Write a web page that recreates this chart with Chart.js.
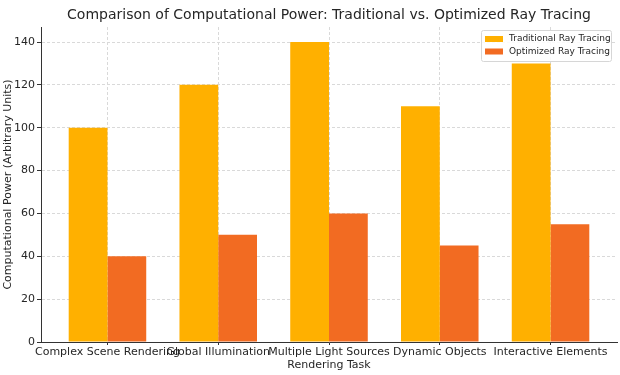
<!DOCTYPE html>
<html>
<head>
<meta charset="utf-8">
<script src="https://cdn.jsdelivr.net/npm/chart.js@4"></script>
<style>
  html, body { margin: 0; padding: 0; background: #fff; }
</style>
</head>
<body>
<canvas id="chart" width="620" height="375"></canvas>
<script>
// 数据
const chartTitle = 'Comparison of Computational Power: Traditional vs. Optimized Ray Tracing';
const categories = ['Complex Scene Rendering', 'Global Illumination', 'Multiple Light Sources', 'Dynamic Objects', 'Interactive Elements'];
const traditional = [100, 120, 140, 110, 130];
const optimized = [40, 50, 60, 45, 55];
const yTicks = [0, 20, 40, 60, 80, 100, 120, 140];

const FONT = 'DejaVu Sans';
const TEXT = '#262626';

// 标题（居中于绘图区）
const titlePlugin = {
    id: 'plotTitle',
    afterDraw(chart) {
        const { ctx, chartArea } = chart;
        ctx.save();
        ctx.font = '14px "' + FONT + '"';
        ctx.fillStyle = TEXT;
        ctx.textAlign = 'center';
        ctx.textBaseline = 'middle';
        ctx.fillText(chartTitle, (chartArea.left + chartArea.right) / 2, 15);
        ctx.restore();
    }
};

// 图例（右上角，绘图区内）
const legendPlugin = {
    id: 'boxLegend',
    afterDatasetsDraw(chart) {
        const { ctx, chartArea } = chart;
        const sets = chart.data.datasets;
        const w = 130, h = 31;
        const x = chartArea.right - w - 6, y = chartArea.top + 3;
        ctx.save();
        ctx.fillStyle = 'rgba(255,255,255,0.85)';
        ctx.strokeStyle = '#d6d6d6';
        ctx.lineWidth = 1;
        ctx.beginPath();
        ctx.roundRect(x + 0.5, y + 0.5, w, h, 2);
        ctx.fill();
        ctx.stroke();
        ctx.font = '9px "' + FONT + '"';
        ctx.textBaseline = 'middle';
        sets.forEach((ds, i) => {
            const cy = y + 9 + i * 12.5;
            ctx.fillStyle = ds.backgroundColor;
            ctx.fillRect(x + 4, cy - 3, 18, 6);
            ctx.fillStyle = TEXT;
            ctx.fillText(ds.label, x + 28, cy);
        });
        ctx.restore();
    }
};

new Chart(document.getElementById('chart'), {
    type: 'bar',
    data: {
        datasets: [{
            label: 'Traditional Ray Tracing',
            data: traditional.map((v, i) => ({ x: i, y: v })),
            backgroundColor: '#FFB000',
            categoryPercentage: 0.7,
            barPercentage: 1.0
        }, {
            label: 'Optimized Ray Tracing',
            data: optimized.map((v, i) => ({ x: i, y: v })),
            backgroundColor: '#F26B22',
            categoryPercentage: 0.7,
            barPercentage: 1.0
        }]
    },
    options: {
        responsive: false,
        animation: false,
        devicePixelRatio: 1,
        layout: { padding: { left: 0, right: 3, top: 27, bottom: 0 } },
        plugins: {
            legend: { display: false },
            title: { display: false },
            tooltip: { enabled: false }
        },
        scales: {
            x: {
                type: 'linear',
                offset: false,
                min: -0.6,
                max: categories.length - 0.4,
                afterFit(scale) { scale.height = 33; },
                afterBuildTicks(scale) {
                    scale.ticks = categories.map((c, i) => ({ value: i }));
                },
                ticks: {
                    autoSkip: false,
                    maxRotation: 0,
                    padding: 1,
                    color: TEXT,
                    font: { family: FONT, size: 11 },
                    callback: v => categories[v]
                },
                grid: {
                    offset: false,
                    color: '#d9d9d9',
                    tickLength: 3,
                    tickColor: '#333'
                },
                border: { display: true, color: '#333', width: 1, dash: [3, 2] },
                title: {
                    display: true,
                    text: 'Rendering Task',
                    color: TEXT,
                    font: { family: FONT, size: 11 },
                    padding: { top: 0, bottom: 3 }
                }
            },
            y: {
                min: 0,
                max: 147,
                afterFit(scale) { scale.width = 41; },
                afterBuildTicks(scale) {
                    scale.ticks = yTicks.map(v => ({ value: v }));
                },
                ticks: {
                    padding: 2,
                    color: TEXT,
                    font: { family: FONT, size: 11 }
                },
                grid: {
                    color: '#d9d9d9',
                    tickLength: 4,
                    tickColor: '#333'
                },
                border: { display: true, color: '#333', width: 1, dash: [3, 2] },
                title: {
                    display: true,
                    text: 'Computational Power (Arbitrary Units)',
                    color: TEXT,
                    font: { family: FONT, size: 11 },
                    padding: { top: 2, bottom: 0 }
                }
            }
        }
    },
    plugins: [titlePlugin, legendPlugin]
});
</script>
</body>
</html>
